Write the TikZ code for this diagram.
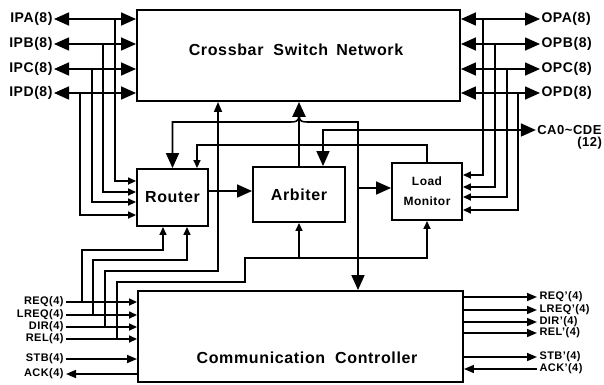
\documentclass[tikz,border=0pt]{standalone}
\usepackage{fontspec}
\setmainfont{Liberation Sans}[LetterSpace=4]
\usetikzlibrary{arrows.meta}

\tikzset{
  box/.style = {draw, line width=1.9pt, inner sep=0pt},
  btext/.style = {font=\fontsize{16}{19}\selectfont\bfseries},
  lab/.style = {inner sep=0.5pt, outer sep=1pt, font=\fontsize{14}{15}\selectfont\bfseries},
  slab/.style = {inner sep=0.5pt, outer sep=2pt, font=\fontsize{11}{12}\selectfont\bfseries},
  wire/.style = {line width=1.6pt},
  bus/.style = {line width=2.6pt},
  tbig/.tip = {Triangle[length=15pt, width=13pt]},
  tmid/.tip = {Triangle[length=10pt, width=8pt]},
  tsml/.tip = {Triangle[length=8pt, width=7pt]},
}

\begin{document}
\begin{tikzpicture}[x = 1pt, y = -1pt]
    \useasboundingbox (0,0) rectangle (604,384);

    % Blocks
    \node[box, minimum width=323pt, minimum height=91pt] (xbar) at (298.5,55.5) {};
    \node[btext] (xbartext) at (296,50) {Crossbar\hspace{10pt}Switch\hspace{8pt}Network};
    \node[box, btext, minimum width=71pt, minimum height=57pt] (router) at (172.5,197.5) {Router};
    \node[box, btext, minimum width=92pt, minimum height=55pt] (arbiter) at (299,194.5) {Arbiter};
    \node[box, align=center, font=\fontsize{12}{20}\selectfont\bfseries, minimum width=70pt, minimum height=57pt] (monitor) at (427,191.5) {Load\\Monitor};
    \node[box, minimum width=325pt, minimum height=91pt] (comm) at (300.5,336.5) {};
    \node[btext] (commtext) at (307,358) {Communication\hspace{10pt}Controller};

    % Input ports of the crossbar
    \node[lab, anchor=east] (ipa) at (54,19) {IPA(8)};
    \node[lab, anchor=east] (ipb) at (54,44) {IPB(8)};
    \node[lab, anchor=east] (ipc) at (54,69) {IPC(8)};
    \node[lab, anchor=east] (ipd) at (54,93) {IPD(8)};
    \foreach \s in {ipa, ipb, ipc, ipd}
        \draw[wire, tbig-tbig] (\s) -- (xbar.west |- \s);
    \foreach \s/\x/\y in {ipa/115/181, ipb/103/192, ipc/92/202, ipd/80/215}
        \draw[wire, -tsml] (\s -| \x,0) |- (router.west |- 0,\y);

    % Output ports of the crossbar
    \node[lab, anchor=west] (opa) at (540,19) {OPA(8)};
    \node[lab, anchor=west] (opb) at (540,44) {OPB(8)};
    \node[lab, anchor=west] (opc) at (540,69) {OPC(8)};
    \node[lab, anchor=west] (opd) at (540,93) {OPD(8)};
    \foreach \s in {opa, opb, opc, opd}
        \draw[wire, tbig-tbig] (xbar.east |- \s) -- (\s);
    \foreach \s/\x/\y in {opa/483/175, opb/495/187, opc/507/197, opd/518/210}
        \draw[wire, -tsml] (\s -| \x,0) |- (monitor.east |- 0,\y);

    % Arbiter bus
    \coordinate (split) at (arbiter.north |- 0,122);
    \draw[bus, -tbig] (arbiter.north) -- (arbiter.north |- xbar.south);
    \draw[wire, -tbig] ([yshift=14pt]split) .. controls (split) .. ([xshift=-12pt]split) -| (router.north);
    \draw[wire, -tbig] ([yshift=14pt]split) .. controls (split) .. ([xshift=12pt]split) -| (comm.north -| 358,0);
    \coordinate (tap) at (358,188);
    \draw[wire, -tbig] (tap) -- (monitor.west |- tap);

    % Channel address
    \node[lab, anchor=east, font=\fontsize{13}{14}\selectfont\bfseries] (ca) at (603,130) {CA0\textasciitilde CDE};
    \node[lab, anchor=north east, inner sep=0pt, font=\fontsize{13}{14}\selectfont\bfseries] (ca12) at (ca.south east) {(12)};
    \draw[wire, tbig-tbig] (arbiter.north -| 323,0) |- (ca);

    % Load feedback and router to arbiter
    \draw[wire, -tsml] (monitor.north) -- (monitor.north |- 0,145) -| (router.north -| 197,0);
    \draw[wire, -tbig] (router.east |- 0,191) -- (arbiter.west |- 0,191);

    % Controller inputs
    \node[slab, anchor=east] (req) at (66,302) {REQ(4)};
    \node[slab, anchor=east] (lreq) at (66,315) {LREQ(4)};
    \node[slab, anchor=east] (dir) at (66,327) {DIR(4)};
    \node[slab, anchor=east] (rel) at (66,339) {REL(4)};
    \node[slab, anchor=east] (stb) at (66,359) {STB(4)};
    \node[slab, anchor=east] (ack) at (66,374) {ACK(4)};
    \foreach \s in {req, lreq, dir, rel}
        \draw[wire, -tsml] (\s) -- (comm.west |- \s);
    \draw[wire, -tmid] (stb) -- (comm.west |- stb);
    \draw[wire, -tmid] (comm.west |- ack) -- (ack);

    % Taps to router, crossbar, arbiter and load monitor
    \draw[wire, -tsml] (req -| 82,0) -- (82,250) -| (router.south -| 163,0);
    \draw[wire, -tsml] (lreq -| 93,0) -- (93,260) -| (router.south -| 187,0);
    \draw[wire, -tmid] (dir -| 105,0) -- (105,271) -| (xbar.south -| 218,0);
    \draw[wire, -tsml] (rel -| 117,0) -- (117,282) -- (245,282) -- (245,258) -| (monitor.south);
    \draw[wire, -tsml] (arbiter.south |- 0,258) -- (arbiter.south);

    % Controller outputs
    \node[slab, anchor=west] (reqo) at (537,297) {REQ'(4)};
    \node[slab, anchor=west] (lreqo) at (537,310) {LREQ'(4)};
    \node[slab, anchor=west] (diro) at (537,322) {DIR'(4)};
    \node[slab, anchor=west] (relo) at (537,333) {REL'(4)};
    \node[slab, anchor=west] (stbo) at (537,357) {STB'(4)};
    \node[slab, anchor=west] (acko) at (537,369) {ACK'(4)};
    \foreach \s in {reqo, lreqo, diro, relo, stbo}
        \draw[wire, -tmid] (comm.east |- \s) -- (\s);
    \draw[wire, -tmid] (acko) -- (comm.east |- acko);
\end{tikzpicture}
\end{document}
